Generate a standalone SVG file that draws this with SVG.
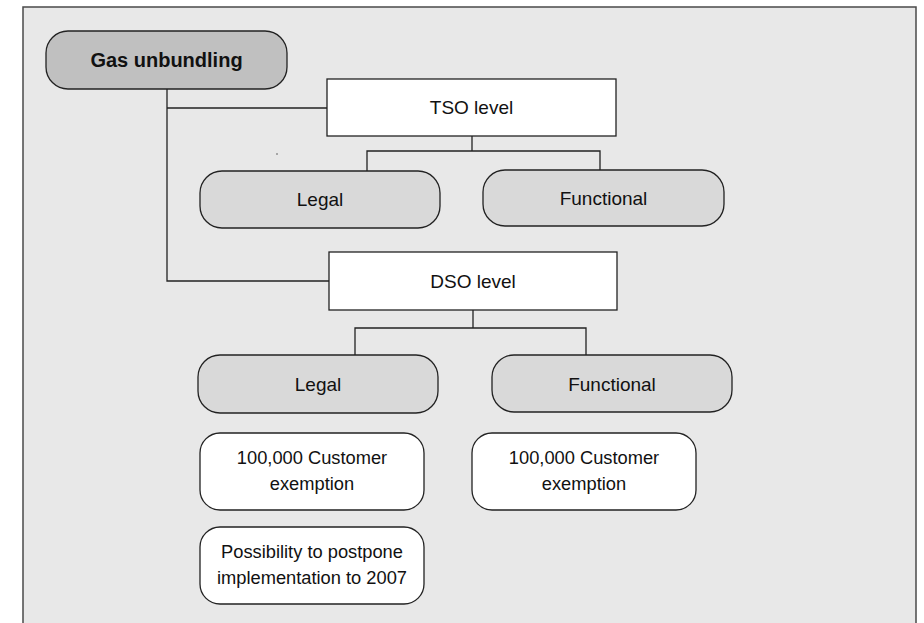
<svg xmlns="http://www.w3.org/2000/svg" width="924" height="623" viewBox="0 0 924 623">
<style>
.bg{fill:#e8e8e8;stroke:#4a4a4a;stroke-width:1.5}
.root{fill:#c0c0c0;stroke:#222;stroke-width:1.3}
.lvl{fill:#ffffff;stroke:#222;stroke-width:1.3}
.opt{fill:#d9d9d9;stroke:#222;stroke-width:1.3}
.note{fill:#ffffff;stroke:#222;stroke-width:1.3}
.c{fill:none;stroke:#222;stroke-width:1.3}
text{font-family:"Liberation Sans",Arial,sans-serif;font-size:19px;fill:#111;text-anchor:middle}
.b{font-weight:bold;font-size:20px}
.n{font-size:18.3px}
</style>
<rect class="bg" x="23" y="7" width="893" height="625"/>
<g id="connectors">
<polyline class="c" points="167,89 167,281 329,281"/>
<line class="c" x1="167" y1="108" x2="327" y2="108"/>
<polyline class="c" points="472,136 472,151"/>
<polyline class="c" points="367,171 367,151 600,151 600,170"/>
<polyline class="c" points="473,310 473,328"/>
<polyline class="c" points="355,355 355,328 586,328 586,355"/>
</g>
<circle cx="277" cy="154" r="0.7" fill="#333"/>
<g id="gas-unbundling">
<rect class="root" x="46" y="31" width="241" height="58" rx="22"/>
<text class="b" x="166.5" y="67">Gas unbundling</text>
</g>
<g id="tso-level">
<rect class="lvl" x="327" y="79" width="289" height="57"/>
<text x="471.5" y="114">TSO level</text>
</g>
<g id="tso-legal">
<rect class="opt" x="200" y="171" width="240" height="57" rx="22"/>
<text x="320" y="206">Legal</text>
</g>
<g id="tso-functional">
<rect class="opt" x="483" y="170" width="241" height="56" rx="22"/>
<text x="603.5" y="205">Functional</text>
</g>
<g id="dso-level">
<rect class="lvl" x="329" y="252" width="288" height="58"/>
<text x="473" y="288">DSO level</text>
</g>
<g id="dso-legal">
<rect class="opt" x="198" y="355" width="240" height="58" rx="22"/>
<text x="318" y="391">Legal</text>
</g>
<g id="dso-functional">
<rect class="opt" x="492" y="355" width="240" height="57" rx="22"/>
<text x="612" y="391">Functional</text>
</g>
<g id="legal-exemption">
<rect class="note" x="200" y="433" width="224" height="77" rx="20"/>
<text class="n" x="312" y="464">100,000 Customer</text>
<text class="n" x="312" y="490">exemption</text>
</g>
<g id="functional-exemption">
<rect class="note" x="472" y="433" width="224" height="77" rx="20"/>
<text class="n" x="584" y="464">100,000 Customer</text>
<text class="n" x="584" y="490">exemption</text>
</g>
<g id="legal-postpone">
<rect class="note" x="200" y="527" width="224" height="77" rx="20"/>
<text class="n" x="312" y="558">Possibility to postpone</text>
<text class="n" x="312" y="584">implementation to 2007</text>
</g>
</svg>
